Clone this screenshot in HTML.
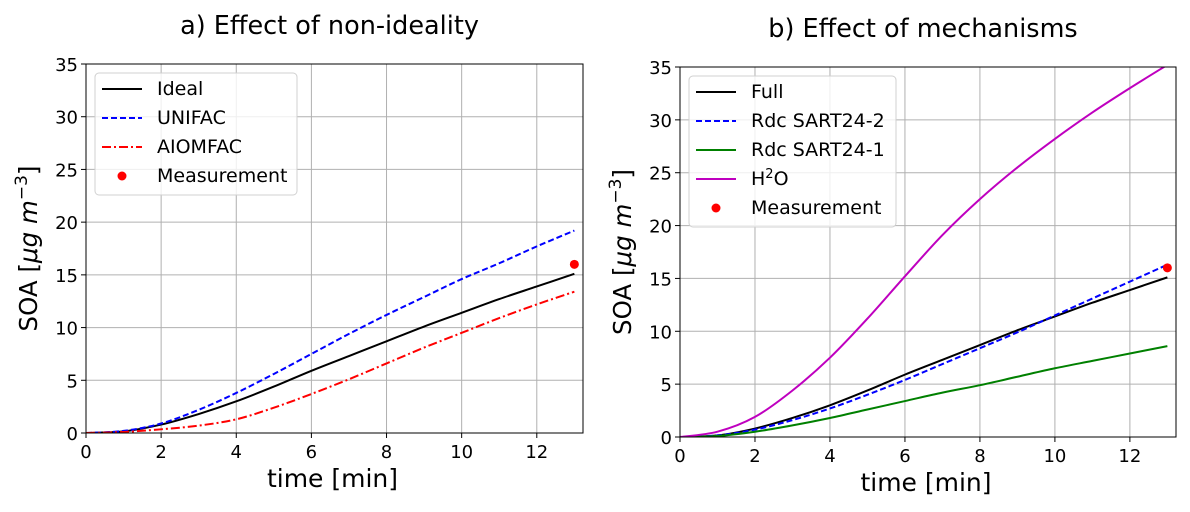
<!DOCTYPE html>
<html><head><meta charset="utf-8"><style>
body{margin:0;background:#fff;}
svg text{font-family:"DejaVu Sans","Liberation Sans",sans-serif;fill:#000;}
</style></head><body>
<svg id="fig" width="1190" height="507" xmlns="http://www.w3.org/2000/svg"></svg>
<script>
const times=[0,1,2,3,4,5,6,7,8,9,10,11,12,13];
const idealVals=[0,0.15,0.8,1.8,3.0,4.4,5.9,7.3,8.7,10.1,11.4,12.7,13.9,15.1];
const unifacVals=[0,0.2,0.9,2.2,3.8,5.6,7.5,9.4,11.2,12.9,14.6,16.1,17.7,19.2];
const aiomfacVals=[0,0.1,0.35,0.7,1.3,2.4,3.7,5.1,6.6,8.1,9.5,10.9,12.2,13.4];
const fullVals=[0,0.15,0.8,1.8,3.0,4.4,5.9,7.3,8.7,10.1,11.4,12.7,13.9,15.1];
const rdc2Vals=[0,0.15,0.7,1.6,2.7,4.0,5.4,6.9,8.4,9.9,11.5,13.1,14.7,16.3];
const rdc1Vals=[0,0.1,0.5,1.1,1.8,2.6,3.4,4.2,4.9,5.7,6.5,7.2,7.9,8.6];
const h2oVals=[0,0.5,1.9,4.4,7.5,11.2,15.2,19.1,22.5,25.5,28.2,30.7,33.0,35.2];
const measT=[13];
const measV=[16];
const xTicks=[0,2,4,6,8,10,12];
const yTicks=[0,5,10,15,20,25,30,35];

const NS="http://www.w3.org/2000/svg";
const svg=document.getElementById('fig');
function el(tag,attrs,parent){const e=document.createElementNS(NS,tag);for(const k in attrs)e.setAttribute(k,attrs[k]);(parent||svg).appendChild(e);return e;}

function panel(cfg){
  const g=el('g',{});
  
  
  const L=cfg.L,R=cfg.R,T=cfg.T,B=cfg.B,xmax=13.23;
  const sx=v=>L+(v/xmax)*(R-L);
  const sy=v=>B-(v/35)*(B-T);
  const clip='clip-'+cfg.name;
  const cp=el('clipPath',{id:clip},g);el('rect',{x:L,y:T,width:R-L,height:B-T},cp);
  xTicks.forEach(t=>{
    const x=sx(t);
    const gl=el('line',{x1:x,x2:x,y1:T,y2:B,stroke:'#b0b0b0','stroke-width':1},g);
    
    el('line',{x1:x,x2:x,y1:B,y2:B+5,stroke:'#000'},g);
    const tx=el('text',{x:x,y:B+25,'text-anchor':'middle','font-size':18},g);tx.textContent=t;
    
  });
  yTicks.forEach(t=>{
    const y=sy(t);
    const gl=el('line',{x1:L,x2:R,y1:y,y2:y,stroke:'#b0b0b0','stroke-width':1},g);
    
    el('line',{x1:L-5,x2:L,y1:y,y2:y,stroke:'#000'},g);
    const tx=el('text',{x:L-8,y:y+7,'text-anchor':'end','font-size':18},g);tx.textContent=t;
    
  });
  function path(vals){
    const p=times.map((t,i)=>[sx(t),sy(vals[i])]);
    let d='M'+p[0][0]+','+p[0][1];
    for(let i=0;i<p.length-1;i++){
      const p0=p[Math.max(i-1,0)],p1=p[i],p2=p[i+1],p3=p[Math.min(i+2,p.length-1)];
      const c1=[p1[0]+(p2[0]-p0[0])/6,p1[1]+(p2[1]-p0[1])/6];
      const c2=[p2[0]-(p3[0]-p1[0])/6,p2[1]-(p3[1]-p1[1])/6];
      d+=' C'+c1+' '+c2+' '+p2;
    }
    return d;
  }
  cfg.series.forEach(s=>{
    const e=el('path',{d:path(s.vals),fill:'none',stroke:s.color,'stroke-width':2,'stroke-dasharray':s.dash||'','clip-path':'url(#'+clip+')'},g);
    
    
  });
  measT.forEach((t,i)=>{
    const c=el('circle',{cx:sx(t),cy:sy(measV[i]),r:4.5,fill:'#ff0000'},g);
    
    
  });
  el('rect',{x:L,y:T,width:R-L,height:B-T,fill:'none',stroke:'#000','stroke-width':1},g);
  const title=el('text',{x:(L+R)/2-5,y:T-30,'text-anchor':'middle','font-size':25.5},g);title.textContent=cfg.title;
  
  const xl=el('text',{x:(L+R)/2-2,y:B+54,'text-anchor':'middle','font-size':25},g);xl.textContent='time [min]';
  
  const yl=el('text',{transform:'translate('+(L-49)+','+((T+B)/2)+') rotate(-90)','text-anchor':'middle','font-size':24.5},g);
  yl.innerHTML='SOA [<tspan font-style="italic">μg</tspan>  <tspan font-style="italic">m</tspan><tspan dy="-10" font-size="17">−3</tspan><tspan dy="10">]</tspan>';
  
  const lg=el('g',{},g);
  
  const n=cfg.series.length+1,lx=L+9,ly=T+9,rh=29;
  el('rect',{x:lx,y:ly,width:cfg.legW,height:n*rh+6,rx:4,fill:'#fff','fill-opacity':0.8,stroke:'#d0d0d0'},lg);
  cfg.series.forEach((s,i)=>{
    const y=ly+16+i*rh;
    const ln=el('line',{x1:lx+7,x2:lx+47,y1:y,y2:y,stroke:s.color,'stroke-width':2,'stroke-dasharray':s.dash||''},lg);
    
    const tx=el('text',{x:lx+62,y:y+6,'font-size':19},lg);tx.innerHTML=s.label;
    
  });
  const y=ly+16+cfg.series.length*rh;
  el('circle',{cx:lx+27,cy:y,r:4.5,fill:'#ff0000'},lg);
  const tx=el('text',{x:lx+62,y:y+6,'font-size':19},lg);tx.textContent='Measurement';
  
}
panel({name:'panel-a',title:'a) Effect of non-ideality',L:86,R:583,T:64,B:433,legW:202,series:[
  {id:'ideal',label:'Ideal',vals:idealVals,color:'#000'},
  {id:'unifac',label:'UNIFAC',vals:unifacVals,color:'#0000ff',dash:'6,3'},
  {id:'aiomfac',label:'AIOMFAC',vals:aiomfacVals,color:'#ff0000',dash:'9,3,2,3'}]});
panel({name:'panel-b',title:'b) Effect of mechanisms',L:680,R:1176,T:67,B:437,legW:207,series:[
  {id:'full',label:'Full',vals:fullVals,color:'#000'},
  {id:'rdc-sart24-2',label:'Rdc SART24-2',vals:rdc2Vals,color:'#0000ff',dash:'6,3'},
  {id:'rdc-sart24-1',label:'Rdc SART24-1',vals:rdc1Vals,color:'#008000'},
  {id:'h2o',label:'H<tspan dy="-7" font-size="13">2</tspan><tspan dy="7">O</tspan>',vals:h2oVals,color:'#bf00bf'}]});
</script>
</body></html>
